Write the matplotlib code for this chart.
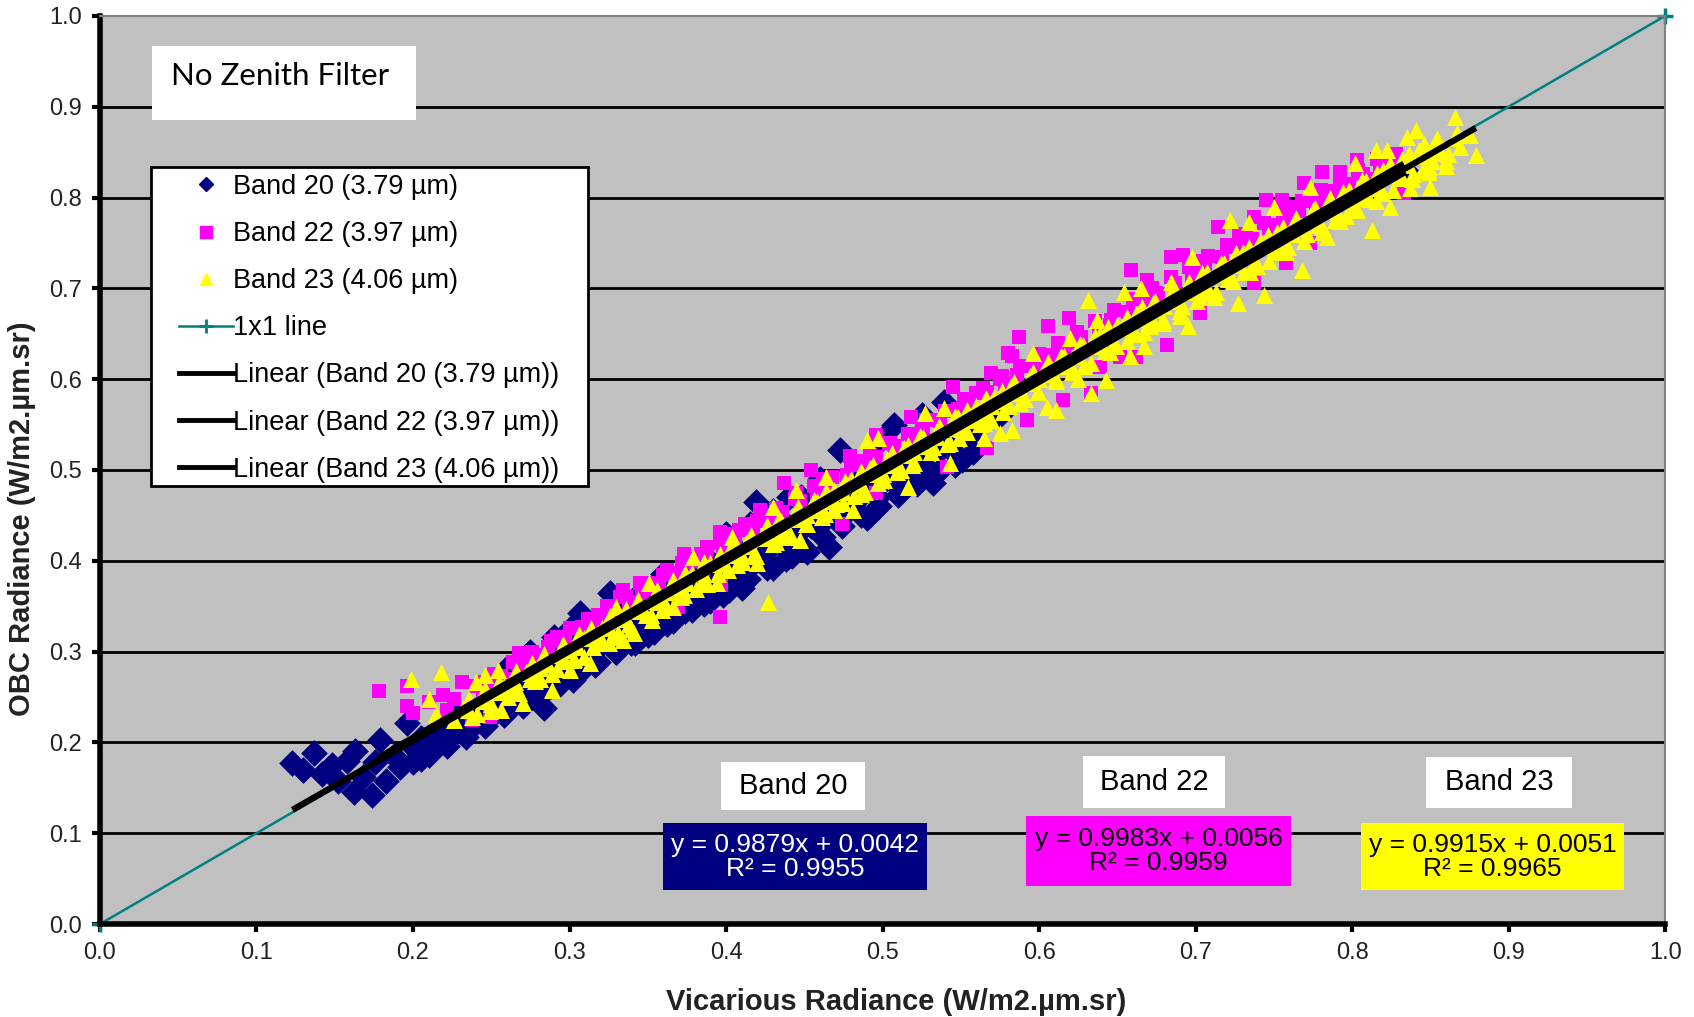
import numpy as np
import matplotlib
matplotlib.use("Agg")
import matplotlib.pyplot as plt
from matplotlib.lines import Line2D
from matplotlib.patches import Rectangle

plt.rcParams['font.family'] = ['Liberation Sans', 'DejaVu Sans']

# ---- data ----
ticks = [0.0, 0.1, 0.2, 0.3, 0.4, 0.5, 0.6, 0.7, 0.8, 0.9, 1.0]
tick_labels = ["0.0", "0.1", "0.2", "0.3", "0.4", "0.5", "0.6", "0.7", "0.8", "0.9", "1.0"]

b20_x = [0.123, 0.130, 0.137, 0.142, 0.148, 0.152, 0.158, 0.162, 0.163, 0.168,
         0.174, 0.176, 0.179, 0.183, 0.188, 0.192, 0.196, 0.200, 0.205, 0.211,
         0.215, 0.220, 0.226, 0.232, 0.238, 0.244, 0.250, 0.256, 0.262, 0.268,
         0.274, 0.284, 0.280, 0.288, 0.295, 0.302, 0.307, 0.310, 0.316, 0.322,
         0.326, 0.330, 0.339, 0.345, 0.350, 0.356, 0.362, 0.368, 0.374, 0.380,
         0.386, 0.392, 0.398, 0.404, 0.410, 0.415, 0.419, 0.424, 0.430, 0.436,
         0.442, 0.448, 0.452, 0.458, 0.466, 0.473, 0.478, 0.484, 0.490, 0.497,
         0.507, 0.512, 0.520, 0.526, 0.532, 0.539, 0.545, 0.551, 0.560, 0.575,
         0.834,
         0.205, 0.218, 0.228, 0.240, 0.252, 0.265, 0.276, 0.290, 0.298, 0.305,
         0.318, 0.333, 0.340, 0.358, 0.372, 0.388, 0.402, 0.418, 0.438, 0.455,
         0.470, 0.488, 0.505, 0.520, 0.535, 0.547, 0.275, 0.290, 0.345, 0.380,
         0.400, 0.430, 0.460, 0.495, 0.525,
         0.200, 0.210, 0.222, 0.234, 0.246, 0.258, 0.270, 0.282, 0.294, 0.306,
         0.318, 0.330, 0.342, 0.354, 0.366, 0.378, 0.390, 0.402, 0.414, 0.426,
         0.438, 0.450, 0.462, 0.474, 0.486, 0.498, 0.510, 0.522, 0.534, 0.546,
         0.558, 0.260, 0.300, 0.360, 0.400, 0.440, 0.500,
         0.205, 0.214, 0.225, 0.236, 0.244, 0.255, 0.266, 0.274, 0.285, 0.296,
         0.304, 0.315, 0.326, 0.334, 0.345, 0.356, 0.364, 0.375, 0.386, 0.394,
         0.405, 0.416, 0.424, 0.435, 0.446, 0.454, 0.465, 0.476, 0.484, 0.495,
         0.506, 0.514, 0.525, 0.536, 0.544, 0.555]
b20_y = [0.177, 0.170, 0.188, 0.165, 0.175, 0.158, 0.180, 0.145, 0.190, 0.162,
         0.142, 0.178, 0.203, 0.158, 0.185, 0.173, 0.221, 0.195, 0.182, 0.188,
         0.212, 0.200, 0.225, 0.210, 0.217, 0.240, 0.228, 0.252, 0.238, 0.262,
         0.250, 0.238, 0.272, 0.262, 0.290, 0.269, 0.342, 0.300, 0.285, 0.318,
         0.364, 0.300, 0.310, 0.338, 0.318, 0.350, 0.330, 0.372, 0.345, 0.385,
         0.352, 0.395, 0.362, 0.418, 0.370, 0.440, 0.465, 0.400, 0.392, 0.445,
         0.405, 0.470, 0.410, 0.440, 0.415, 0.522, 0.455, 0.500, 0.447, 0.470,
         0.550, 0.478, 0.510, 0.492, 0.486, 0.575, 0.520, 0.511, 0.545, 0.560,
         0.830,
         0.205, 0.218, 0.232, 0.228, 0.245, 0.255, 0.283, 0.295, 0.305, 0.318,
         0.330, 0.345, 0.325, 0.340, 0.360, 0.372, 0.385, 0.398, 0.425, 0.445,
         0.460, 0.478, 0.495, 0.520, 0.530, 0.535, 0.300, 0.316, 0.365, 0.400,
         0.430, 0.455, 0.490, 0.528, 0.560,
         0.178, 0.186, 0.196, 0.206, 0.218, 0.230, 0.240, 0.252, 0.264, 0.276,
         0.288, 0.300, 0.310, 0.322, 0.334, 0.346, 0.356, 0.368, 0.380, 0.392,
         0.402, 0.414, 0.426, 0.438, 0.450, 0.460, 0.472, 0.484, 0.496, 0.506,
         0.520, 0.282, 0.325, 0.385, 0.428, 0.470, 0.535,
         0.188, 0.199, 0.208, 0.221, 0.228, 0.238, 0.251, 0.258, 0.268, 0.281,
         0.288, 0.298, 0.311, 0.318, 0.328, 0.341, 0.348, 0.358, 0.371, 0.378,
         0.388, 0.401, 0.408, 0.418, 0.431, 0.438, 0.448, 0.461, 0.468, 0.478,
         0.491, 0.498, 0.508, 0.521, 0.528, 0.538]

b22_x = [0.178, 0.196, 0.196, 0.200, 0.219, 0.231, 0.222, 0.210, 0.226, 0.396,
         0.238, 0.249, 0.245, 0.255, 0.262, 0.268, 0.275, 0.282, 0.292, 0.298,
         0.302, 0.310, 0.318, 0.325, 0.332, 0.334, 0.345, 0.350, 0.355, 0.362,
         0.369, 0.373, 0.380, 0.388, 0.396, 0.397, 0.405, 0.412, 0.422, 0.430,
         0.437, 0.445, 0.454, 0.462, 0.474, 0.479, 0.488, 0.496, 0.496, 0.505,
         0.518, 0.525, 0.532, 0.541, 0.545, 0.552, 0.560, 0.567, 0.569, 0.575,
         0.580, 0.583, 0.587, 0.592, 0.600, 0.606, 0.615, 0.619, 0.625, 0.633,
         0.639, 0.645, 0.652, 0.659, 0.662, 0.669, 0.675, 0.682, 0.684, 0.692,
         0.703, 0.705, 0.714, 0.720, 0.728, 0.737, 0.737, 0.745, 0.750, 0.755,
         0.758, 0.763, 0.769, 0.773, 0.781, 0.786, 0.792, 0.798, 0.803, 0.810,
         0.818, 0.825, 0.833,
         0.240, 0.252, 0.264, 0.276, 0.288, 0.300, 0.312, 0.324, 0.336, 0.348,
         0.360, 0.372, 0.384, 0.396, 0.408, 0.420, 0.432, 0.444, 0.456, 0.468,
         0.480, 0.492, 0.504, 0.516, 0.528, 0.540, 0.552, 0.564, 0.576, 0.588,
         0.600, 0.612, 0.624, 0.636, 0.648, 0.660, 0.672, 0.684, 0.696, 0.708,
         0.720, 0.732, 0.744, 0.756, 0.768, 0.780, 0.792, 0.804, 0.816, 0.828,
         0.246, 0.256, 0.267, 0.278, 0.286, 0.297, 0.308, 0.316, 0.327, 0.338,
         0.346, 0.357, 0.368, 0.376, 0.387, 0.398, 0.406, 0.417, 0.428, 0.436,
         0.447, 0.458, 0.466, 0.477, 0.488, 0.496, 0.507, 0.518, 0.526, 0.537,
         0.548, 0.556, 0.567, 0.578, 0.586, 0.597, 0.608, 0.616, 0.627, 0.638,
         0.646, 0.657, 0.668, 0.676, 0.687, 0.698, 0.706, 0.717, 0.728, 0.736,
         0.747, 0.758, 0.766, 0.777, 0.788, 0.796, 0.807, 0.818, 0.826]
b22_y = [0.257, 0.262, 0.240, 0.232, 0.252, 0.266, 0.236, 0.245, 0.248, 0.338,
         0.225, 0.228, 0.255, 0.262, 0.270, 0.298, 0.285, 0.296, 0.316, 0.305,
         0.326, 0.318, 0.340, 0.335, 0.360, 0.368, 0.375, 0.375, 0.370, 0.390,
         0.349, 0.408, 0.400, 0.415, 0.432, 0.373, 0.430, 0.440, 0.456, 0.450,
         0.486, 0.475, 0.500, 0.490, 0.441, 0.515, 0.510, 0.539, 0.475, 0.530,
         0.558, 0.545, 0.555, 0.503, 0.591, 0.570, 0.585, 0.524, 0.607, 0.600,
         0.629, 0.625, 0.646, 0.555, 0.620, 0.658, 0.577, 0.667, 0.640, 0.585,
         0.613, 0.660, 0.624, 0.720, 0.624, 0.709, 0.695, 0.638, 0.735, 0.737,
         0.673, 0.730, 0.768, 0.745, 0.760, 0.778, 0.706, 0.797, 0.770, 0.797,
         0.728, 0.790, 0.816, 0.750, 0.828, 0.800, 0.828, 0.815, 0.841, 0.820,
         0.835, 0.830, 0.805,
         0.262, 0.275, 0.288, 0.300, 0.312, 0.326, 0.336, 0.350, 0.360, 0.373,
         0.384, 0.398, 0.408, 0.420, 0.434, 0.444, 0.458, 0.468, 0.482, 0.492,
         0.506, 0.516, 0.530, 0.540, 0.555, 0.565, 0.578, 0.590, 0.604, 0.614,
         0.628, 0.640, 0.652, 0.664, 0.676, 0.688, 0.700, 0.712, 0.724, 0.736,
         0.748, 0.760, 0.772, 0.784, 0.796, 0.808, 0.818, 0.830, 0.842, 0.848,
         0.266, 0.273, 0.286, 0.295, 0.305, 0.314, 0.327, 0.334, 0.346, 0.355,
         0.365, 0.374, 0.387, 0.394, 0.406, 0.415, 0.425, 0.434, 0.447, 0.454,
         0.466, 0.475, 0.485, 0.494, 0.507, 0.514, 0.526, 0.535, 0.545, 0.554,
         0.567, 0.574, 0.586, 0.595, 0.605, 0.614, 0.627, 0.634, 0.646, 0.655,
         0.665, 0.674, 0.687, 0.694, 0.706, 0.715, 0.725, 0.734, 0.747, 0.754,
         0.766, 0.775, 0.785, 0.794, 0.807, 0.814, 0.826, 0.835, 0.843]

b23_x = [0.199, 0.218, 0.210, 0.215, 0.427, 0.226, 0.240, 0.246, 0.254, 0.256,
         0.262, 0.270, 0.275, 0.282, 0.289, 0.295, 0.300, 0.305, 0.313, 0.318,
         0.325, 0.330, 0.334, 0.341, 0.345, 0.351, 0.353, 0.358, 0.366, 0.372,
         0.379, 0.385, 0.394, 0.398, 0.404, 0.410, 0.420, 0.425, 0.430, 0.436,
         0.445, 0.447, 0.452, 0.460, 0.464, 0.470, 0.481, 0.486, 0.490, 0.497,
         0.500, 0.508, 0.516, 0.520, 0.527, 0.532, 0.539, 0.543, 0.550, 0.558,
         0.565, 0.570, 0.575, 0.583, 0.588, 0.596, 0.600, 0.605, 0.611, 0.615,
         0.620, 0.625, 0.631, 0.633, 0.637, 0.643, 0.648, 0.654, 0.658, 0.665,
         0.667, 0.672, 0.680, 0.684, 0.690, 0.695, 0.698, 0.705, 0.712, 0.718,
         0.722, 0.727, 0.734, 0.738, 0.744, 0.750, 0.755, 0.762, 0.768, 0.773,
         0.778, 0.784, 0.790, 0.796, 0.802, 0.806, 0.813, 0.815, 0.818, 0.822,
         0.824, 0.828, 0.835, 0.837, 0.841, 0.845, 0.849, 0.850, 0.854, 0.860,
         0.866, 0.867, 0.875, 0.879,
         0.232, 0.238, 0.244, 0.250, 0.258, 0.265, 0.272, 0.278, 0.285, 0.292,
         0.298, 0.303, 0.309, 0.315, 0.321, 0.327, 0.333, 0.338, 0.344, 0.349,
         0.355, 0.361, 0.367, 0.373, 0.378, 0.384, 0.390, 0.395, 0.401, 0.407,
         0.413, 0.418, 0.424, 0.430, 0.435, 0.441, 0.447, 0.452, 0.458, 0.463,
         0.469, 0.475, 0.480, 0.486, 0.492, 0.497, 0.503, 0.509, 0.514, 0.520,
         0.526, 0.531, 0.537, 0.543, 0.548, 0.554, 0.560, 0.565, 0.571, 0.577,
         0.582, 0.588, 0.594, 0.599, 0.605, 0.611, 0.616, 0.622, 0.628, 0.633,
         0.639, 0.645, 0.650, 0.656, 0.662, 0.667, 0.673, 0.679, 0.684, 0.690,
         0.696, 0.701, 0.707, 0.713, 0.718, 0.724, 0.730, 0.735, 0.741, 0.747,
         0.752, 0.758, 0.764, 0.769, 0.775, 0.781, 0.786, 0.792, 0.798, 0.803,
         0.809, 0.815, 0.820, 0.826, 0.832, 0.838, 0.843, 0.849, 0.855, 0.860,
         0.235, 0.245, 0.255, 0.265, 0.275, 0.285, 0.295, 0.305, 0.315, 0.325,
         0.335, 0.345, 0.355, 0.365, 0.375, 0.385, 0.395, 0.405, 0.415, 0.425,
         0.435, 0.445, 0.455, 0.465, 0.475, 0.485, 0.495, 0.505, 0.515, 0.525,
         0.535, 0.545, 0.555, 0.565, 0.575, 0.585, 0.595, 0.605, 0.615, 0.625,
         0.635, 0.645, 0.655, 0.665, 0.675, 0.685, 0.695, 0.705, 0.715, 0.725,
         0.735, 0.745, 0.755, 0.765, 0.775, 0.785, 0.795, 0.805, 0.815, 0.825,
         0.835, 0.845, 0.855, 0.865,
         0.241, 0.249, 0.261, 0.268, 0.281, 0.289, 0.302, 0.309, 0.321, 0.331,
         0.339, 0.352, 0.359, 0.371, 0.381, 0.388, 0.401, 0.411, 0.419, 0.432,
         0.439, 0.451, 0.461, 0.469, 0.482, 0.489, 0.501, 0.512, 0.519, 0.531,
         0.541, 0.549, 0.562, 0.569, 0.581, 0.591, 0.599, 0.611, 0.621, 0.629,
         0.642, 0.649, 0.661, 0.671, 0.679, 0.691, 0.702, 0.709, 0.721, 0.731,
         0.739, 0.752, 0.759, 0.771, 0.781, 0.789, 0.801, 0.811, 0.819, 0.832,
         0.839, 0.851, 0.861, 0.869,
         0.236, 0.246, 0.255, 0.266, 0.276, 0.284, 0.296, 0.306, 0.314, 0.326,
         0.336, 0.344, 0.356, 0.366, 0.374, 0.386, 0.396, 0.404, 0.416, 0.426,
         0.434, 0.446, 0.456, 0.464, 0.476, 0.486, 0.494, 0.506, 0.516, 0.524,
         0.536, 0.546, 0.554, 0.566, 0.576, 0.584, 0.596, 0.606, 0.614, 0.626,
         0.636, 0.644, 0.656, 0.666, 0.674, 0.686, 0.696, 0.704, 0.716, 0.726,
         0.734, 0.746, 0.756, 0.764, 0.776, 0.786, 0.794, 0.806, 0.816, 0.824,
         0.836, 0.846, 0.854]
b23_y = [0.270, 0.278, 0.248, 0.231, 0.355, 0.225, 0.266, 0.274, 0.280, 0.236,
         0.260, 0.243, 0.270, 0.282, 0.258, 0.290, 0.280, 0.305, 0.287, 0.320,
         0.310, 0.349, 0.313, 0.320, 0.345, 0.375, 0.335, 0.355, 0.349, 0.370,
         0.404, 0.380, 0.375, 0.398, 0.426, 0.405, 0.397, 0.425, 0.459, 0.430,
         0.478, 0.423, 0.450, 0.460, 0.492, 0.462, 0.456, 0.485, 0.533, 0.535,
         0.495, 0.510, 0.481, 0.520, 0.563, 0.525, 0.568, 0.508, 0.545, 0.555,
         0.535, 0.570, 0.541, 0.544, 0.585, 0.629, 0.600, 0.569, 0.566, 0.615,
         0.645, 0.600, 0.687, 0.585, 0.665, 0.599, 0.640, 0.696, 0.625, 0.700,
         0.636, 0.665, 0.680, 0.707, 0.670, 0.658, 0.735, 0.700, 0.690, 0.720,
         0.775, 0.684, 0.773, 0.730, 0.693, 0.790, 0.740, 0.760, 0.720, 0.812,
         0.770, 0.757, 0.785, 0.780, 0.838, 0.800, 0.764, 0.852, 0.810, 0.852,
         0.790, 0.825, 0.867, 0.810, 0.874, 0.830, 0.834, 0.812, 0.849, 0.840,
         0.889, 0.871, 0.869, 0.847,
         0.238, 0.228, 0.250, 0.242, 0.262, 0.256, 0.278, 0.268, 0.290, 0.281,
         0.302, 0.292, 0.315, 0.305, 0.326, 0.316, 0.338, 0.330, 0.352, 0.340,
         0.362, 0.352, 0.374, 0.362, 0.386, 0.374, 0.398, 0.385, 0.408, 0.395,
         0.420, 0.408, 0.432, 0.418, 0.444, 0.430, 0.455, 0.440, 0.466, 0.452,
         0.478, 0.464, 0.490, 0.474, 0.502, 0.486, 0.512, 0.498, 0.524, 0.508,
         0.536, 0.520, 0.546, 0.530, 0.558, 0.542, 0.570, 0.552, 0.580, 0.564,
         0.592, 0.574, 0.604, 0.586, 0.615, 0.598, 0.626, 0.608, 0.638, 0.618,
         0.650, 0.630, 0.660, 0.642, 0.672, 0.652, 0.684, 0.662, 0.694, 0.675,
         0.706, 0.686, 0.718, 0.696, 0.728, 0.708, 0.740, 0.718, 0.752, 0.730,
         0.762, 0.740, 0.774, 0.752, 0.786, 0.762, 0.796, 0.774, 0.808, 0.786,
         0.818, 0.796, 0.830, 0.808, 0.842, 0.820, 0.852, 0.828, 0.862, 0.835,
         0.236, 0.246, 0.256, 0.266, 0.276, 0.286, 0.296, 0.306, 0.316, 0.326,
         0.336, 0.346, 0.356, 0.366, 0.376, 0.386, 0.396, 0.406, 0.416, 0.426,
         0.436, 0.446, 0.456, 0.466, 0.476, 0.486, 0.496, 0.506, 0.516, 0.526,
         0.536, 0.546, 0.556, 0.566, 0.576, 0.586, 0.596, 0.606, 0.616, 0.626,
         0.636, 0.646, 0.656, 0.666, 0.676, 0.686, 0.696, 0.706, 0.716, 0.726,
         0.736, 0.746, 0.756, 0.766, 0.776, 0.786, 0.796, 0.806, 0.816, 0.826,
         0.836, 0.846, 0.856, 0.866,
         0.231, 0.235, 0.250, 0.254, 0.270, 0.275, 0.291, 0.294, 0.309, 0.320,
         0.325, 0.340, 0.346, 0.360, 0.369, 0.374, 0.390, 0.399, 0.405, 0.421,
         0.426, 0.440, 0.448, 0.456, 0.471, 0.476, 0.489, 0.500, 0.506, 0.520,
         0.529, 0.535, 0.551, 0.555, 0.570, 0.578, 0.586, 0.600, 0.608, 0.615,
         0.631, 0.636, 0.650, 0.658, 0.665, 0.680, 0.690, 0.695, 0.710, 0.718,
         0.725, 0.741, 0.745, 0.760, 0.768, 0.775, 0.790, 0.798, 0.805, 0.821,
         0.826, 0.840, 0.848, 0.856,
         0.248, 0.259, 0.266, 0.279, 0.287, 0.297, 0.308, 0.319, 0.326, 0.339,
         0.347, 0.357, 0.368, 0.379, 0.386, 0.399, 0.407, 0.417, 0.428, 0.439,
         0.446, 0.459, 0.467, 0.477, 0.488, 0.499, 0.506, 0.519, 0.527, 0.537,
         0.548, 0.559, 0.566, 0.579, 0.587, 0.597, 0.608, 0.619, 0.626, 0.639,
         0.647, 0.657, 0.668, 0.679, 0.686, 0.699, 0.707, 0.717, 0.728, 0.739,
         0.746, 0.759, 0.767, 0.777, 0.788, 0.799, 0.806, 0.819, 0.827, 0.837,
         0.848, 0.859, 0.866]

# trendline coefficients shown in the chart boxes
slopes = [0.9879, 0.9983, 0.9915]
intercepts = [0.0042, 0.0056, 0.0051]
r2 = [0.9955, 0.9959, 0.9965]

names = ["Band 20 (3.79 \u00b5m)", "Band 22 (3.97 \u00b5m)", "Band 23 (4.06 \u00b5m)"]
short = ["Band 20", "Band 22", "Band 23"]
colors = ["#000080", "#FF00FF", "#FFFF00"]
eq_text_col = ["white", "black", "black"]

fig = plt.figure(figsize=(16.94, 10.17), dpi=100)
ax = fig.add_axes([0.059, 0.0914, 0.924, 0.893])
ax.set_facecolor("#C0C0C0")
ax.set_xlim(0, 1)
ax.set_ylim(0, 1)

for t in ticks[1:-1]:
    ax.axhline(t, color="black", lw=2, zorder=1)

# 1x1 line
ax.plot([0, 1], [0, 1], color="#008080", lw=1.8, marker="+", ms=12, mew=2.5,
        zorder=2, clip_on=False)

ax.scatter(b20_x, b20_y, marker="D", s=185, color=colors[0], linewidths=0, zorder=3)
ax.scatter(b22_x, b22_y, marker="s", s=110, color=colors[1], linewidths=0, zorder=4)
ax.scatter(b23_x, b23_y, marker="^", s=150, color=colors[2], linewidths=0, zorder=5)

# linear trendlines over each series' x-range
for xs, m, c in zip([b20_x, b22_x, b23_x], slopes, intercepts):
    xx = np.array([min(xs), max(xs)])
    ax.plot(xx, m * xx + c, color="black", lw=4.5, solid_capstyle="butt", zorder=6)

ax.set_xticks(ticks)
ax.set_xticklabels(tick_labels)
ax.set_yticks(ticks)
ax.set_yticklabels(tick_labels)
ax.tick_params(axis="both", direction="out", length=6, width=3, labelsize=17,
               labelcolor="#222222", pad=7)

for side in ["left", "bottom"]:
    ax.spines[side].set_linewidth(4)
    ax.spines[side].set_color("black")
for side in ["top", "right"]:
    ax.spines[side].set_linewidth(1.5)
    ax.spines[side].set_color("#808080")

ax.set_xlabel("Vicarious Radiance (W/m2.\u00b5m.sr)", fontsize=21, fontweight="bold",
              color="#222222")
ax.xaxis.set_label_coords(0.509, -0.07)
ax.set_ylabel("OBC Radiance (W/m2.\u00b5m.sr)", fontsize=21, fontweight="bold",
              color="#222222")
ax.yaxis.set_label_coords(-0.041, 0.446)

# legend: frame drawn separately so the padding matches
ax.add_patch(Rectangle((0.0326, 0.482), 0.2792, 0.352, transform=ax.transAxes,
                       facecolor="white", edgecolor="black", lw=2, zorder=7))
handles = [
    Line2D([], [], marker="D", ms=7, color=colors[0], ls="none"),
    Line2D([], [], marker="s", ms=8, color=colors[1], ls="none"),
    Line2D([], [], marker="^", ms=9, color=colors[2], ls="none"),
    Line2D([], [], color="#008080", lw=1.8, marker="+", ms=10, mew=2),
    Line2D([], [], color="black", lw=3.5),
    Line2D([], [], color="black", lw=3.5),
    Line2D([], [], color="black", lw=3.5),
]
labels = names + ["1x1 line"] + ["Linear (" + n + ")" for n in names]
leg = ax.legend(handles, labels, loc="upper left", bbox_to_anchor=(0.0505, 0.826),
                fontsize=19.5, frameon=False, handlelength=2.0, handletextpad=0.0,
                labelspacing=0.78, borderpad=0, borderaxespad=0)
leg.set_zorder(8)

# "No Zenith Filter" box
ax.add_patch(Rectangle((0.0332, 0.885), 0.169, 0.082, transform=ax.transAxes,
                       facecolor="white", edgecolor="none", zorder=8))
ax.text(0.0454, 0.934, "No Zenith Filter", transform=ax.transAxes, fontsize=22.5,
        family=["Lato", "DejaVu Sans"], va="center", ha="left", zorder=9)

# band name boxes and equation boxes
name_boxes = [(0.397, 0.1256, 0.092, 0.0529),
              (0.628, 0.1278, 0.0907, 0.0573),
              (0.8473, 0.1278, 0.0933, 0.0562)]
eq_boxes = [(0.3597, 0.0374, 0.1687, 0.0738),
            (0.5917, 0.0419, 0.1693, 0.0771),
            (0.8057, 0.0374, 0.168, 0.0738)]
for i in range(3):
    x0, y0, w, h = name_boxes[i]
    ax.add_patch(Rectangle((x0, y0), w, h, transform=ax.transAxes,
                           facecolor="white", edgecolor="none", zorder=8))
    ax.text(x0 + w / 2, y0 + h / 2, short[i], transform=ax.transAxes, fontsize=21,
            ha="center", va="center", zorder=9)
    x0, y0, w, h = eq_boxes[i]
    ax.add_patch(Rectangle((x0, y0), w, h, transform=ax.transAxes,
                           facecolor=colors[i], edgecolor="none", zorder=8))
    eq = "y = %.4fx + %.4f\nR\u00b2 = %.4f" % (slopes[i], intercepts[i], r2[i])
    ax.text(x0 + w / 2, y0 + h / 2, eq, transform=ax.transAxes, fontsize=19,
            ha="center", va="center", linespacing=1.0, color=eq_text_col[i],
            zorder=9)

fig.savefig("out.png", dpi=100)
